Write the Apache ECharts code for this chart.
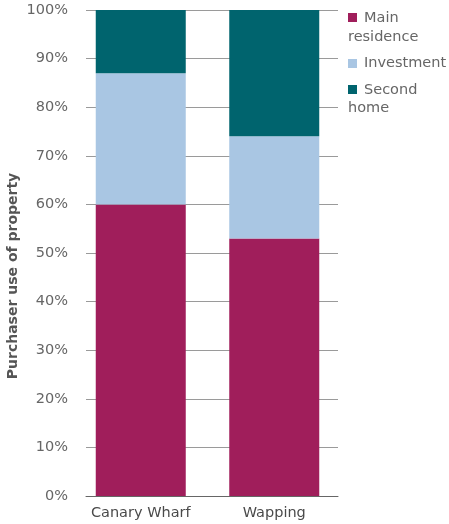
<!DOCTYPE html>
<html><head><meta charset="utf-8">
<script src="https://cdn.jsdelivr.net/npm/echarts@6/dist/echarts.min.js"></script>
<style>html,body{margin:0;padding:0;background:#fff}#c{width:449px;height:524px}</style>
</head><body><div id="c"></div>
<script>
const categories = ['Canary Wharf', 'Wapping'];
const mainResidence = [60, 53];
const investment = [27, 21];
const secondHome = [13, 26];
const seriesNames = ['Main residence', 'Investment', 'Second home'];
const colors = ['#A01E5B', '#A9C6E3', '#00646E'];
const yTicks = [0, 10, 20, 30, 40, 50, 60, 70, 80, 90, 100];

const font = '"DejaVu Sans", Verdana, sans-serif';
const chart = echarts.init(document.getElementById('c'));
const gridTop = 10, gridBottom = 28;
const option = {
  animation: false,
  grid: [
    {left: 86, right: 111, top: gridTop, bottom: gridBottom},
    {left: 74, right: 108, top: gridTop, bottom: gridBottom}
  ],
  xAxis: [
    {gridIndex: 0, type: 'category', data: categories,
     axisLine: {show: true, lineStyle: {color: '#666', width: 1}},
     axisTick: {show: false}, axisLabel: {show: false}, z: 5},
    {gridIndex: 1, type: 'category', data: categories,
     axisLine: {show: false}, axisTick: {show: false},
     axisLabel: {fontFamily: font, fontSize: 14.5, color: '#4a4a4a', margin: 10}}
  ],
  yAxis: [
    {gridIndex: 0, type: 'value', min: 0, max: 100, interval: 10,
     axisLine: {show: false}, axisTick: {show: false},
     axisLabel: {formatter: v => yTicks.includes(v) ? v + '%' : '', fontFamily: font, fontSize: 14.5, color: '#666', margin: 18},
     splitLine: {lineStyle: {color: '#9a9a9a', width: 1}}},
    {gridIndex: 1, type: 'value', min: 0, max: 100, interval: 10, show: false}
  ],
  series: [
    {name: seriesNames[0], type: 'bar', stack: 's', xAxisIndex: 1, yAxisIndex: 1, barWidth: 90, data: mainResidence, itemStyle: {color: colors[0]}},
    {name: seriesNames[1], type: 'bar', stack: 's', xAxisIndex: 1, yAxisIndex: 1, barWidth: 90, data: investment, itemStyle: {color: colors[1]}},
    {name: seriesNames[2], type: 'bar', stack: 's', xAxisIndex: 1, yAxisIndex: 1, barWidth: 90, data: secondHome, itemStyle: {color: colors[2]}}
  ],
  graphic: [
    {type: 'text', x: 13, y: 276, rotation: Math.PI / 2,
     style: {text: 'Purchaser use of property', font: 'bold 14px ' + font, fill: '#555', textAlign: 'center', textVerticalAlign: 'middle'}},
    {type: 'rect', shape: {x: 348, y: 13, width: 9, height: 9}, style: {fill: colors[0]}},
    {type: 'text', x: 364, y: 18, style: {text: 'Main', font: '14.5px ' + font, fill: '#666', textVerticalAlign: 'middle'}},
    {type: 'text', x: 348, y: 37, style: {text: 'residence', font: '14.5px ' + font, fill: '#666', textVerticalAlign: 'middle'}},
    {type: 'rect', shape: {x: 348, y: 59, width: 9, height: 9}, style: {fill: colors[1]}},
    {type: 'text', x: 364, y: 63, style: {text: 'Investment', font: '14.5px ' + font, fill: '#666', textVerticalAlign: 'middle'}},
    {type: 'rect', shape: {x: 348, y: 85, width: 9, height: 9}, style: {fill: colors[2]}},
    {type: 'text', x: 364, y: 90, style: {text: 'Second', font: '14.5px ' + font, fill: '#666', textVerticalAlign: 'middle'}},
    {type: 'text', x: 348, y: 108, style: {text: 'home', font: '14.5px ' + font, fill: '#666', textVerticalAlign: 'middle'}}
  ]
};
chart.setOption(option);
</script></body></html>
